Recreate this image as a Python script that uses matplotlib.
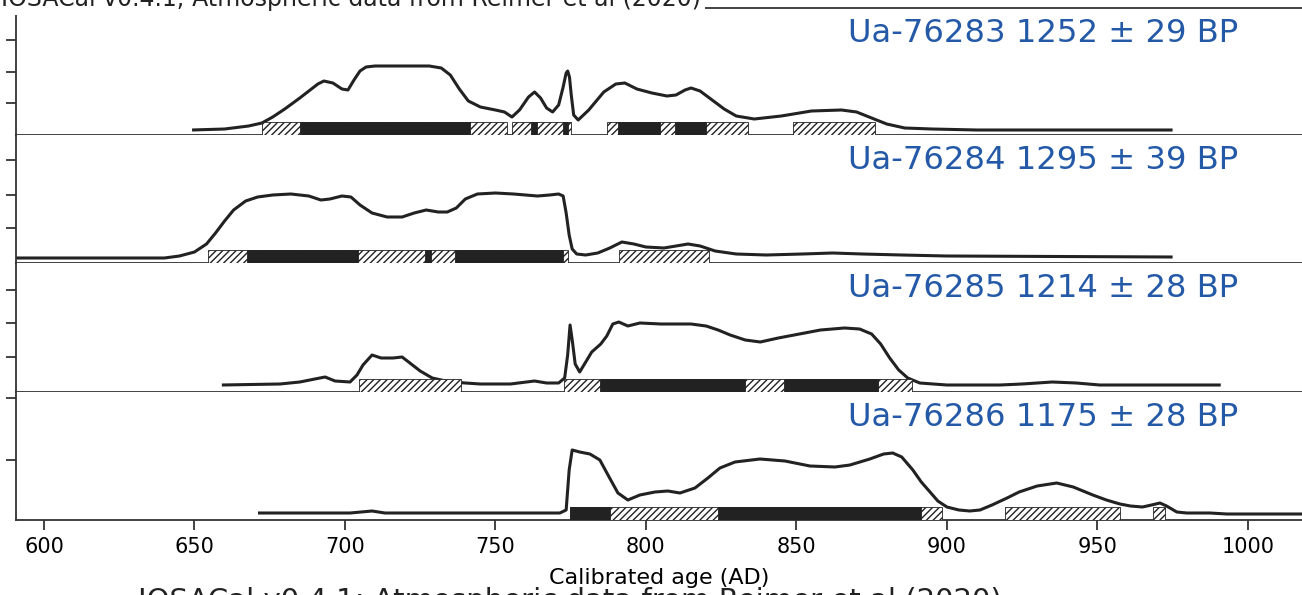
import matplotlib.pyplot as plt

# sample labels
labels = ["Ua-76283 1252 ± 29 BP", "Ua-76284 1295 ± 39 BP",
          "Ua-76285 1214 ± 28 BP", "Ua-76286 1175 ± 28 BP"]
credit = "IOSACal v0.4.1; Atmospheric data from Reimer et al (2020)"

# calibrated probability curves (relative density)
years_1 = [649.2, 660, 668, 672.4, 676, 680, 685, 688, 691, 693,
           696, 699, 701, 703, 705, 707, 710, 720, 728, 732,
           735, 738, 741, 745, 750, 753, 755.5, 758, 761, 763,
           765, 767, 769, 771, 772.5, 773.5, 774, 774.6, 775.2, 776,
           777.5, 781, 786, 790, 793, 797, 802, 807, 810, 813,
           815, 818, 822, 826, 830, 836, 845, 855, 865, 870,
           875, 880, 886, 895, 910, 975]
dens_1 = [5, 6, 9, 12, 18, 26, 37, 44, 51, 54,
          52, 46, 45, 55, 64, 68, 69, 69, 69, 67,
          60, 46, 34, 28, 25, 23, 18, 25, 38, 43,
          37, 27, 23, 30, 48, 62, 64, 58, 40, 20,
          15, 25, 43, 51, 52, 46, 42, 39, 40, 45,
          47, 44, 35, 26, 19, 16, 19, 24, 25, 23,
          17, 11, 7, 6, 5, 5]

years_2 = [580, 640, 645, 650, 654, 657, 660, 663, 667, 671,
           676, 682, 688, 692, 695, 699, 702, 705, 709, 714,
           719, 723, 727, 731, 734, 737, 740, 744, 750, 756,
           760, 764, 768, 771, 772.5, 773.5, 774.5, 775.5, 777, 780,
           784, 788, 792, 796, 800, 806, 810, 814, 818, 823,
           830, 840, 852, 862, 872, 885, 900, 975]
dens_2 = [5, 5, 7, 11, 19, 30, 42, 53, 62, 66,
          68, 69, 67, 63, 64, 67, 66, 58, 50, 46,
          46, 50, 53, 51, 51, 55, 64, 69, 70, 69,
          68, 67, 68, 69, 67, 50, 28, 14, 9, 8,
          10, 15, 21, 19, 16, 15, 17, 19, 17, 12,
          9, 8, 9, 10, 9, 8, 7, 6]

years_3 = [659.1, 678.4, 685, 690, 693.4, 696.7, 701.7, 704, 706, 709,
           712, 716, 719, 722, 725, 729, 735, 745, 755, 763,
           767, 771, 773, 774, 774.8, 775.6, 776.5, 778, 780, 782,
           785, 787, 789, 791, 794, 798, 805, 815, 820, 824,
           828, 833, 838, 844, 851, 858, 866, 871, 875, 878,
           881, 884, 887, 891, 900, 917.6, 925, 935, 943, 950.8,
           991]
dens_3 = [7, 8, 10, 13, 15, 11, 10, 17, 27, 37,
          34, 34, 35, 28, 21, 14, 10, 8, 8, 11,
          9, 9, 14, 37, 67, 50, 28, 20, 30, 40,
          48, 56, 68, 70, 66, 69, 68, 68, 66, 62,
          57, 52, 50, 54, 58, 62, 64, 63, 58, 48,
          34, 22, 14, 9, 7, 7, 8, 10, 9, 7,
          7]

years_4 = [671.1, 701.7, 709.0, 713.3, 771.4, 773.5, 774.5, 775.5, 778, 781.4,
           784.7, 787.4, 790.7, 794.0, 798.0, 803.0, 807.3, 811.3, 816.3, 820.6,
           824.6, 829.6, 837.9, 846.2, 854.5, 862.8, 867.8, 874.4, 879, 882,
           885, 888.7, 891.5, 894.4, 897, 900, 904, 907.6, 911, 915,
           920, 924, 930, 936.5, 942, 948.5, 953, 957.5, 961, 965,
           968, 970.8, 973, 976.4, 979.7, 987.4, 993, 1030]
dens_4 = [7, 7, 9, 7, 7, 10, 50, 70, 68, 66,
          60, 45, 27, 20, 25, 28, 29, 27, 32, 42,
          52, 58, 61, 59, 54, 53, 55, 61, 66, 67,
          63, 50, 38, 28, 19, 13, 10, 9, 10, 15,
          22, 28, 34, 37, 33, 25, 20, 16, 14, 13,
          15, 17, 14, 8, 7, 7, 6, 6]

# highest density ranges: 95.4 % (hatched) and 68.2 % (solid)
hpd95 = [[(672.4, 753.8), (755.5, 775.1), (787.0, 833.9), (848.8, 876.1)],
         [(654.5, 774.1), (791.0, 820.9)],
         [(704.7, 738.5), (772.8, 888.4)],
         [(774.8, 898.3), (919.3, 957.5), (968.4, 972.4)]]
hpd68 = [[(685.0, 741.5), (761.8, 763.8), (772.4, 774.1), (790.7, 804.7), (809.6, 819.9)],
         [(667.4, 704.3), (726.6, 728.6), (736.5, 772.4)],
         [(784.7, 832.9), (845.8, 877.1)],
         [(774.8, 788.0), (823.9, 891.4)]]

# panel heights and y tick positions (same relative units as the curves)
heights = [127, 128, 129, 128]
yticks = [[32, 63, 95], [35, 68, 103], [35, 69, 102], [60, 122]]

curves = [(years_1, dens_1), (years_2, dens_2), (years_3, dens_3), (years_4, dens_4)]

W, H = 1302, 595
fig = plt.figure(figsize=(W / 100, H / 100), dpi=100)
tops = [8, 135, 263, 392]
ink = "#222222"
blue = "#2459a8"

axes = []
for i in range(4):
    top = tops[i]
    h = heights[i]
    ax = fig.add_axes([16 / W, 1 - (top + h) / H, 1 - 16 / W, h / H])
    axes.append(ax)
    xs, ys = curves[i]
    ax.plot(xs, ys, color=ink, lw=2.2, zorder=2, solid_joinstyle="round",
            solid_capstyle="butt")
    for a, b in hpd95[i]:
        ax.bar(a, 13, width=b - a, bottom=0, align="edge",
               facecolor="white", edgecolor=ink, hatch="/////", lw=0.6, zorder=3)
    for a, b in hpd68[i]:
        ax.bar(a, 13, width=b - a, bottom=0, align="edge",
               facecolor=ink, edgecolor=ink, lw=0.6, zorder=4)
    ax.text(0.9502, 1 - 10 / h, labels[i], transform=ax.transAxes, ha="right",
            va="top", fontsize=23.2, color=blue)
    ax.set_xlim(590.7, 1018)
    ax.set_ylim(0, h)
    ax.set_yticks(yticks[i])
    ax.tick_params(axis="y", labelleft=False, length=7, width=1.2, color=ink)
    ax.spines["right"].set_visible(False)
    if i > 0:
        ax.spines["top"].set_visible(False)
    for s in ["left", "bottom", "top"]:
        ax.spines[s].set_color("#333333")
        ax.spines[s].set_linewidth(1.3)
    if i < 3:
        ax.tick_params(axis="x", bottom=False, labelbottom=False)

ax = axes[-1]
ax.set_xticks([600, 650, 700, 750, 800, 850, 900, 950, 1000])
ax.tick_params(axis="x", labelsize=15, length=7, width=1.2, color=ink, pad=5)
ax.set_xlabel("Calibrated age (AD)", fontsize=16, labelpad=8)

fig.text(1 / W, 1 - 6 / H, credit, fontsize=17, va="baseline", ha="left", color=ink,
         bbox=dict(facecolor="white", edgecolor="none", pad=3))
fig.text(570 / W, 1 - 587 / H, credit, fontsize=21, va="top", ha="center", color=ink)

plt.savefig("out.png", dpi=100)
